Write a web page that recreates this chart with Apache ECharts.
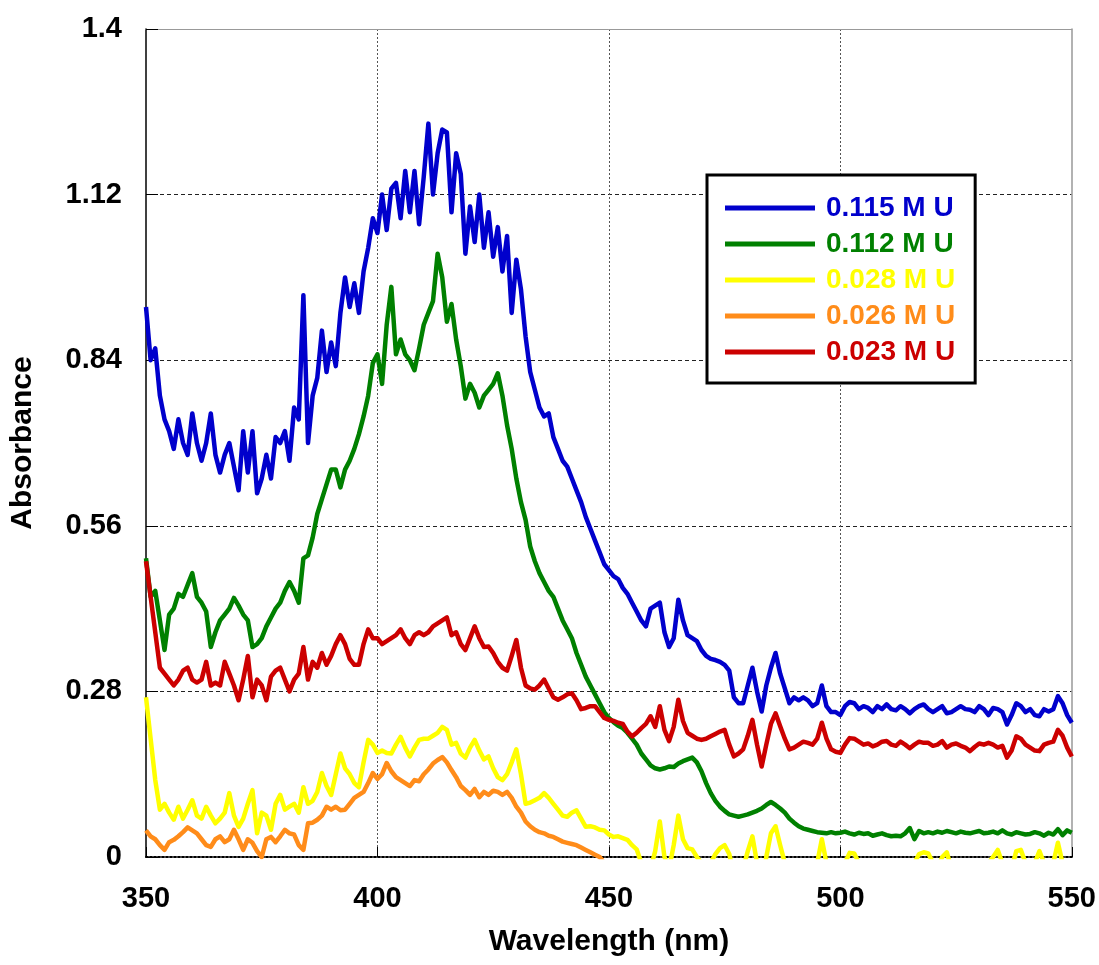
<!DOCTYPE html>
<html>
<head>
<meta charset="utf-8">
<script src="https://cdn.jsdelivr.net/npm/echarts@6/dist/echarts.min.js"></script>
<style>
html,body{margin:0;padding:0;background:#fff;}
#chart{width:1099px;height:965px;}
</style>
</head>
<body>
<div id="chart"></div>
<script>
// Wavelength grid (nm): first value and spacing of the samples below
const wavelengthStart = 350;
const wavelengthStep = 1;

const seriesNames = ['0.115 M U', '0.112 M U', '0.028 M U', '0.026 M U', '0.023 M U'];
const seriesColors = ['#0000cc', '#008000', '#ffff00', '#ff8c1a', '#cc0000'];
const yTickLabels = ['0', '0.28', '0.56', '0.84', '1.12', '1.4'];
const xTickLabels = ['350', '400', '450', '500', '550'];

// 0.115 M U (350..550 nm, 1 nm step)
const u0115 = [
0.93,0.84,0.86,0.78,0.74,0.72,0.69,0.74,0.70,0.68,
0.75,0.70,0.67,0.70,0.75,0.68,0.65,0.68,0.70,0.66,
0.62,0.72,0.65,0.72,0.615,0.64,0.68,0.64,0.71,0.70,
0.72,0.67,0.76,0.74,0.95,0.70,0.78,0.81,0.89,0.82,
0.87,0.83,0.92,0.98,0.93,0.97,0.92,0.99,1.03,1.08,
1.055,1.12,1.06,1.13,1.14,1.08,1.16,1.09,1.16,1.07,
1.15,1.24,1.12,1.19,1.23,1.225,1.09,1.19,1.155,1.02,
1.10,1.04,1.12,1.03,1.09,1.015,1.065,0.99,1.05,0.92,
1.01,0.96,0.88,0.82,0.79,0.76,0.745,0.75,0.71,0.69,
0.67,0.66,0.64,0.62,0.60,0.575,0.555,0.535,0.515,0.495,
0.485,0.475,0.47,0.455,0.445,0.43,0.415,0.40,0.39,0.42,
0.425,0.43,0.38,0.355,0.37,0.435,0.40,0.375,0.37,0.365,
0.35,0.34,0.335,0.333,0.33,0.325,0.315,0.27,0.26,0.26,
0.29,0.32,0.28,0.246,0.29,0.32,0.345,0.31,0.285,0.26,
0.27,0.265,0.27,0.265,0.255,0.26,0.29,0.255,0.245,0.245,
0.24,0.255,0.262,0.26,0.25,0.255,0.252,0.245,0.255,0.25,
0.258,0.25,0.248,0.255,0.25,0.243,0.25,0.255,0.258,0.25,
0.245,0.25,0.255,0.243,0.245,0.25,0.255,0.25,0.249,0.245,
0.255,0.25,0.24,0.252,0.25,0.245,0.224,0.24,0.26,0.255,
0.245,0.25,0.24,0.238,0.25,0.246,0.25,0.272,0.26,0.24,
0.227
];

// 0.112 M U
const u0112 = [
0.505,0.44,0.45,0.40,0.35,0.41,0.42,0.445,0.44,0.46,
0.48,0.44,0.43,0.415,0.355,0.38,0.40,0.41,0.42,0.438,
0.425,0.41,0.40,0.355,0.36,0.37,0.39,0.405,0.42,0.43,
0.45,0.465,0.45,0.43,0.505,0.51,0.54,0.58,0.605,0.63,
0.655,0.655,0.625,0.655,0.67,0.69,0.715,0.745,0.78,0.835,
0.85,0.80,0.90,0.964,0.85,0.875,0.85,0.84,0.823,0.86,
0.90,0.92,0.94,1.02,0.98,0.905,0.935,0.875,0.83,0.775,
0.80,0.785,0.76,0.78,0.79,0.80,0.818,0.78,0.73,0.69,
0.64,0.60,0.57,0.525,0.50,0.48,0.465,0.45,0.44,0.42,
0.40,0.385,0.37,0.345,0.325,0.305,0.29,0.275,0.26,0.245,
0.235,0.228,0.222,0.218,0.21,0.20,0.19,0.175,0.165,0.155,
0.15,0.148,0.15,0.153,0.152,0.158,0.162,0.165,0.168,0.16,
0.145,0.125,0.108,0.095,0.085,0.078,0.072,0.07,0.068,0.07,
0.072,0.075,0.078,0.082,0.088,0.093,0.088,0.082,0.075,0.065,
0.058,0.052,0.048,0.046,0.044,0.042,0.041,0.04,0.042,0.04,
0.041,0.043,0.04,0.038,0.041,0.039,0.04,0.036,0.038,0.04,
0.037,0.035,0.036,0.035,0.04,0.049,0.03,0.044,0.04,0.042,
0.04,0.043,0.041,0.044,0.042,0.04,0.043,0.041,0.04,0.042,
0.044,0.04,0.041,0.043,0.04,0.045,0.04,0.038,0.042,0.04,
0.038,0.039,0.042,0.04,0.036,0.041,0.038,0.047,0.037,0.045,
0.041
];

// 0.028 M U (values below 0 fall outside the axis and are clipped)
const u0028 = [
0.27,0.20,0.13,0.08,0.09,0.075,0.063,0.085,0.065,0.08,
0.096,0.07,0.065,0.085,0.07,0.057,0.065,0.075,0.108,0.07,
0.051,0.065,0.09,0.113,0.04,0.075,0.07,0.046,0.09,0.105,
0.08,0.085,0.09,0.075,0.118,0.09,0.095,0.11,0.142,0.12,
0.105,0.14,0.175,0.15,0.14,0.125,0.118,0.16,0.198,0.19,
0.176,0.18,0.176,0.175,0.19,0.203,0.185,0.17,0.185,0.198,
0.20,0.20,0.205,0.21,0.22,0.215,0.19,0.193,0.175,0.168,
0.185,0.198,0.18,0.165,0.17,0.15,0.135,0.13,0.14,0.16,
0.182,0.14,0.09,0.092,0.096,0.10,0.108,0.10,0.09,0.08,
0.07,0.068,0.075,0.079,0.065,0.051,0.052,0.05,0.046,0.045,
0.038,0.034,0.035,0.032,0.029,0.02,0.013,-0.01,-0.03,-0.02,
0.01,0.06,0.0,-0.02,0.02,0.07,0.03,0.015,0.013,0.0,
-0.01,-0.03,-0.01,0.005,0.015,0.02,0.005,-0.03,-0.04,-0.02,
0.01,0.035,-0.01,-0.05,0.0,0.04,0.052,0.02,-0.01,-0.03,
-0.025,-0.02,-0.02,-0.03,-0.03,-0.01,0.03,-0.01,-0.04,-0.04,
-0.04,-0.01,0.007,0.006,-0.01,-0.02,-0.02,-0.03,-0.02,-0.015,
-0.02,-0.025,-0.03,-0.02,-0.025,-0.03,-0.01,0.005,0.008,0.006,
-0.01,-0.02,0.0,0.008,-0.02,-0.02,-0.025,-0.03,-0.03,-0.025,
-0.02,-0.02,-0.01,0.0,0.012,-0.01,-0.045,-0.02,0.01,0.012,
-0.01,-0.02,-0.01,0.01,-0.01,-0.02,-0.01,0.024,-0.01,-0.01,
-0.03
];

// 0.026 M U (recorded to 449 nm, below the axis afterwards)
const u0026 = [
0.045,0.035,0.03,0.02,0.012,0.025,0.029,0.035,0.042,0.05,
0.045,0.04,0.03,0.02,0.017,0.03,0.035,0.025,0.03,0.046,
0.03,0.012,0.03,0.024,0.01,0.0,0.03,0.034,0.025,0.035,
0.046,0.04,0.038,0.02,0.012,0.057,0.058,0.063,0.07,0.085,
0.08,0.085,0.079,0.08,0.09,0.1,0.105,0.11,0.125,0.142,
0.132,0.14,0.159,0.145,0.135,0.13,0.125,0.12,0.13,0.128,
0.14,0.148,0.158,0.164,0.169,0.16,0.147,0.135,0.12,0.113,
0.105,0.115,0.101,0.11,0.105,0.112,0.11,0.105,0.11,0.1,
0.085,0.075,0.06,0.052,0.046,0.042,0.04,0.036,0.034,0.03,
0.026,0.024,0.022,0.02,0.016,0.012,0.008,0.004,0.0,-0.01
];

// 0.023 M U
const u0023 = [
0.50,0.44,0.38,0.32,0.31,0.30,0.29,0.30,0.315,0.32,
0.30,0.295,0.30,0.33,0.29,0.295,0.29,0.33,0.31,0.29,
0.265,0.30,0.34,0.27,0.30,0.29,0.265,0.305,0.315,0.32,
0.30,0.28,0.30,0.31,0.355,0.30,0.33,0.32,0.345,0.325,
0.34,0.36,0.375,0.36,0.335,0.325,0.325,0.36,0.385,0.37,
0.37,0.36,0.365,0.37,0.375,0.385,0.37,0.36,0.375,0.38,
0.375,0.38,0.39,0.395,0.40,0.405,0.375,0.38,0.36,0.35,
0.37,0.39,0.37,0.355,0.356,0.345,0.33,0.32,0.315,0.34,
0.367,0.32,0.29,0.285,0.283,0.29,0.30,0.285,0.27,0.266,
0.27,0.275,0.277,0.265,0.25,0.252,0.255,0.255,0.245,0.235,
0.232,0.23,0.227,0.225,0.212,0.204,0.21,0.218,0.225,0.238,
0.22,0.255,0.215,0.196,0.22,0.266,0.23,0.21,0.205,0.20,
0.198,0.20,0.204,0.208,0.212,0.215,0.19,0.17,0.175,0.182,
0.205,0.232,0.19,0.153,0.19,0.225,0.243,0.221,0.2,0.182,
0.185,0.19,0.195,0.193,0.19,0.2,0.227,0.2,0.182,0.178,
0.176,0.19,0.201,0.2,0.195,0.19,0.192,0.187,0.19,0.195,
0.196,0.19,0.188,0.195,0.19,0.184,0.19,0.195,0.193,0.193,
0.188,0.19,0.196,0.185,0.19,0.192,0.188,0.185,0.179,0.186,
0.192,0.19,0.193,0.19,0.185,0.188,0.168,0.18,0.204,0.2,
0.19,0.185,0.18,0.179,0.19,0.193,0.195,0.215,0.205,0.185,
0.17
];

const seriesValues = [u0115, u0112, u0028, u0026, u0023];

function toPairs(values) {
  return values.map((v, i) => [wavelengthStart + i * wavelengthStep, v]);
}

const FONT = '"Liberation Sans", Arial, sans-serif';
const chart = echarts.init(document.getElementById('chart'), null, {renderer: 'canvas'});

const option = {
  backgroundColor: '#ffffff',
  animation: false,
  grid: {left: 145, right: 26, top: 29, bottom: 108, containLabel: false},
  legend: {
    left: 707, top: 175,
    orient: 'vertical',
    backgroundColor: '#ffffff',
    borderColor: '#000000',
    borderWidth: 3,
    borderRadius: 0,
    padding: [19, 20, 17, 18],
    itemGap: 8,
    itemWidth: 90,
    itemHeight: 5,
    icon: 'rect',
    textStyle: {fontFamily: FONT, fontWeight: 'bold', fontSize: 28, lineHeight: 28, padding: [0, 0, 0, 6]},
    data: seriesNames.map((n, i) => ({name: n, itemStyle: {color: seriesColors[i]}, textStyle: {color: seriesColors[i]}}))
  },
  xAxis: [{
    type: 'value', min: 350, max: 550, interval: 50,
    name: 'Wavelength (nm)', nameLocation: 'middle', nameGap: 70,
    nameTextStyle: {fontFamily: FONT, fontWeight: 'bold', fontSize: 30, color: '#000'},
    axisLine: {show: true, onZero: false, lineStyle: {color: '#000', width: 2, type: 'dotted'}},
    axisTick: {show: true, inside: true, length: 10, lineStyle: {color: '#000', width: 1}},
    axisLabel: {fontFamily: FONT, fontWeight: 'bold', fontSize: 29, color: '#000', margin: 27,
      formatter: (v) => xTickLabels[Math.round((v - 350) / 50)]},
    splitLine: {show: true, showMinLine: false, showMaxLine: false, lineStyle: {color: '#555', width: 1, type: [2, 2]}}
  }, {
    type: 'value', min: 350, max: 550, position: 'top',
    axisLine: {show: true, onZero: false, lineStyle: {color: '#999', width: 1}},
    axisTick: {show: false}, axisLabel: {show: false}, splitLine: {show: false}
  }],
  yAxis: [{
    type: 'value', min: 0, max: 1.4, interval: 0.28,
    name: 'Absorbance', nameLocation: 'middle', nameGap: 108,
    nameTextStyle: {fontFamily: FONT, fontWeight: 'bold', fontSize: 30, color: '#000'},
    axisLine: {show: true, onZero: false, lineStyle: {color: '#000', width: 1.5}},
    axisTick: {show: true, inside: true, length: 12, lineStyle: {color: '#000', width: 1}},
    axisLabel: {fontFamily: FONT, fontWeight: 'bold', fontSize: 29, color: '#000', margin: 24,
      formatter: (v) => yTickLabels[Math.round(v / 0.28)]},
    splitLine: {show: true, showMinLine: false, showMaxLine: false, lineStyle: {color: '#222', width: 1, type: [4, 3]}}
  }, {
    type: 'value', min: 0, max: 1.4, position: 'right',
    axisLine: {show: true, onZero: false, lineStyle: {color: '#999', width: 1.5}},
    axisTick: {show: false}, axisLabel: {show: false}, splitLine: {show: false}
  }],
  series: seriesNames.map((n, i) => ({
    name: n,
    type: 'line',
    xAxisIndex: 0, yAxisIndex: 0,
    data: toPairs(seriesValues[i]),
    showSymbol: false,
    symbol: 'none',
    clip: true,
    lineStyle: {color: seriesColors[i], width: 4.5, join: 'round'},
    itemStyle: {color: seriesColors[i]},
    z: 2 + i
  }))
};
chart.setOption(option);
</script>
</body>
</html>
